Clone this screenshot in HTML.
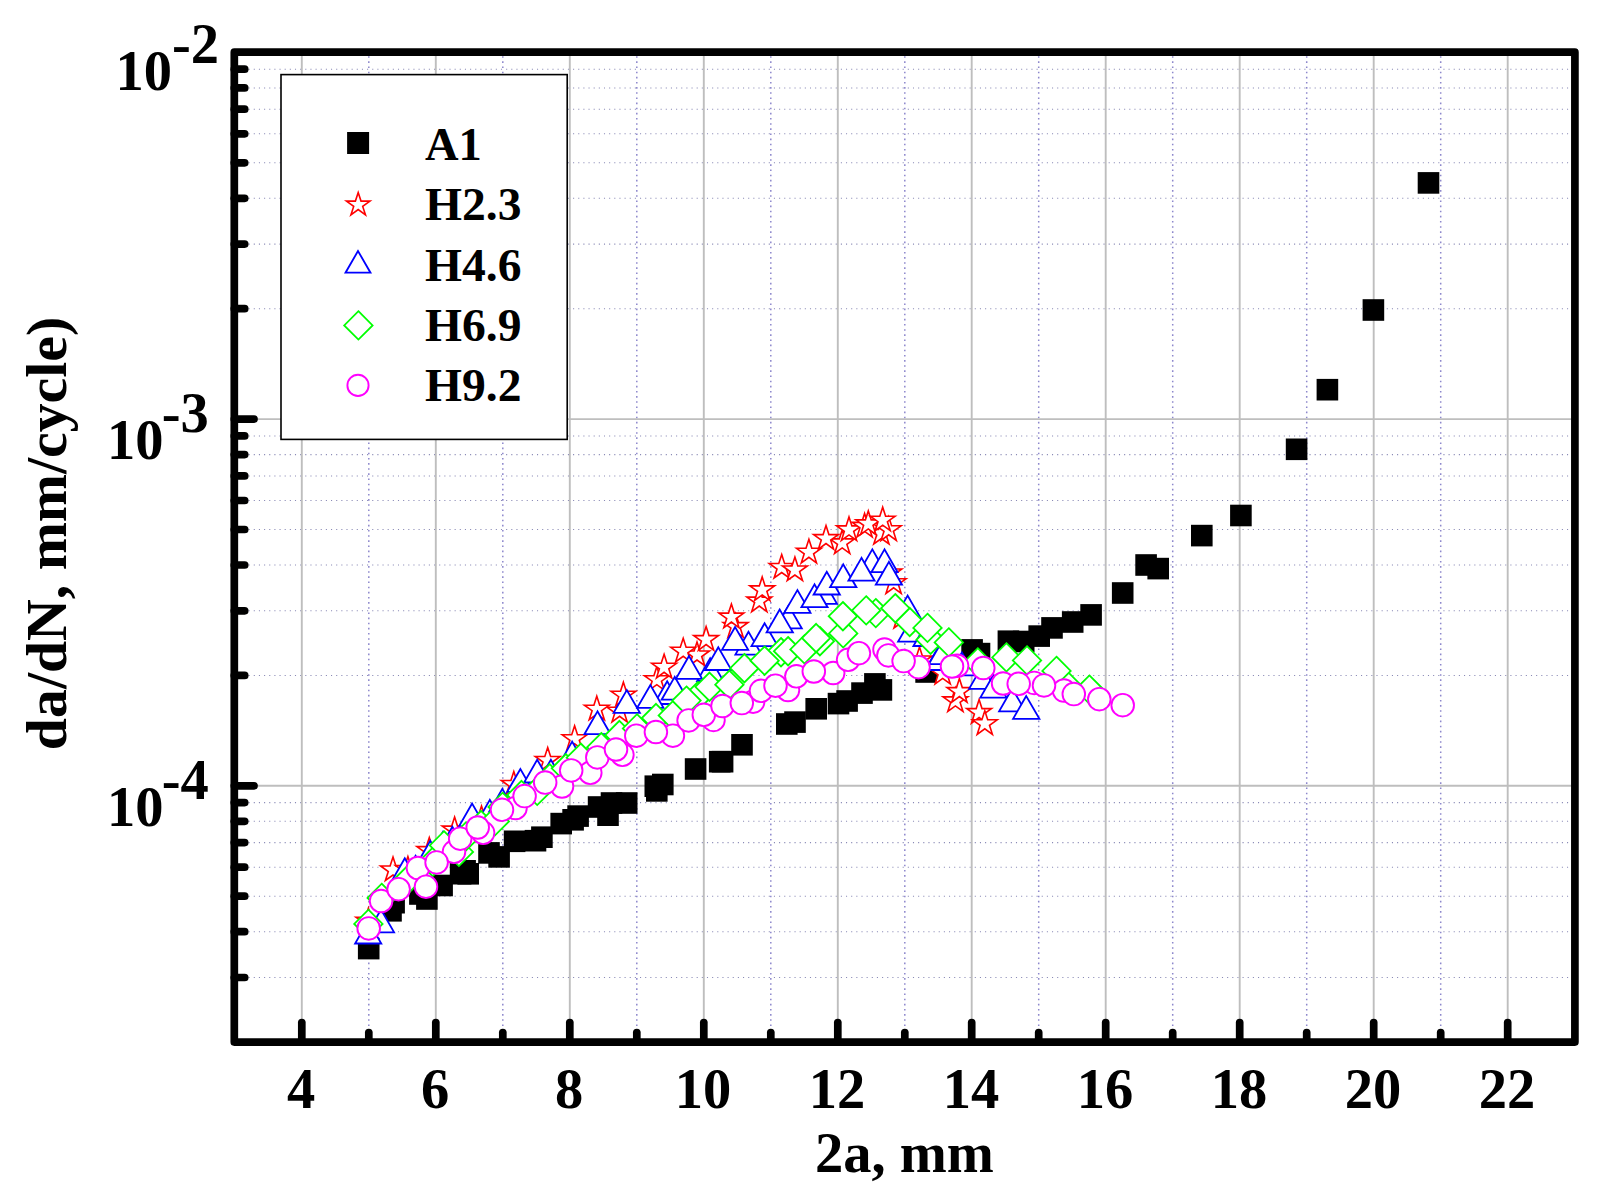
<!DOCTYPE html>
<html lang="en"><head><meta charset="utf-8"><title>da/dN vs 2a</title>
<style>html,body{margin:0;padding:0;background:#fff}svg{display:block}</style></head>
<body>
<svg width="1615" height="1204" viewBox="0 0 1615 1204">
<rect width="1615" height="1204" fill="#fff"/>
<g stroke="#8a8ab6" stroke-width="1.05" stroke-dasharray="1.1 4.05" fill="none">
<path d="M238.3 977.5H1570.9"/>
<path d="M238.3 931.7H1570.9"/>
<path d="M238.3 896.2H1570.9"/>
<path d="M238.3 867.2H1570.9"/>
<path d="M238.3 842.6H1570.9"/>
<path d="M238.3 821.3H1570.9"/>
<path d="M238.3 802.6H1570.9"/>
<path d="M238.3 675.4H1570.9"/>
<path d="M238.3 610.8H1570.9"/>
<path d="M238.3 565.0H1570.9"/>
<path d="M238.3 529.5H1570.9"/>
<path d="M238.3 500.5H1570.9"/>
<path d="M238.3 475.9H1570.9"/>
<path d="M238.3 454.6H1570.9"/>
<path d="M238.3 435.9H1570.9"/>
<path d="M238.3 308.7H1570.9"/>
<path d="M238.3 244.1H1570.9"/>
<path d="M238.3 198.3H1570.9"/>
<path d="M238.3 162.8H1570.9"/>
<path d="M238.3 133.8H1570.9"/>
<path d="M238.3 109.2H1570.9"/>
<path d="M238.3 87.9H1570.9"/>
<path d="M238.3 69.2H1570.9"/>
</g>
<g stroke="#8d87cc" stroke-width="1.5" stroke-dasharray="1.6 3.55" fill="none">
<path d="M368.8 56.2V1038.1"/>
<path d="M502.8 56.2V1038.1"/>
<path d="M636.8 56.2V1038.1"/>
<path d="M770.8 56.2V1038.1"/>
<path d="M904.8 56.2V1038.1"/>
<path d="M1038.7 56.2V1038.1"/>
<path d="M1172.7 56.2V1038.1"/>
<path d="M1306.7 56.2V1038.1"/>
<path d="M1440.7 56.2V1038.1"/>
</g>
<g stroke="#bebebe" stroke-width="1.9" fill="none">
<path d="M234.3 785.8H1574.9"/>
<path d="M234.3 419.1H1574.9"/>
<path d="M301.8 52.2V1042.1"/>
<path d="M435.8 52.2V1042.1"/>
<path d="M569.8 52.2V1042.1"/>
<path d="M703.8 52.2V1042.1"/>
<path d="M837.8 52.2V1042.1"/>
<path d="M971.7 52.2V1042.1"/>
<path d="M1105.7 52.2V1042.1"/>
<path d="M1239.7 52.2V1042.1"/>
<path d="M1373.7 52.2V1042.1"/>
<path d="M1507.7 52.2V1042.1"/>
</g>
<g fill="#000"><rect x="357.9" y="937.8" width="21.6" height="21.6"/><rect x="380.2" y="900.0" width="21.6" height="21.6"/><rect x="383.3" y="891.9" width="21.6" height="21.6"/><rect x="409.1" y="883.2" width="21.6" height="21.6"/><rect x="416.1" y="888.2" width="21.6" height="21.6"/><rect x="431.3" y="874.7" width="21.6" height="21.6"/><rect x="449.8" y="862.9" width="21.6" height="21.6"/><rect x="454.3" y="860.0" width="21.6" height="21.6"/><rect x="457.4" y="863.0" width="21.6" height="21.6"/><rect x="478.2" y="842.1" width="21.6" height="21.6"/><rect x="488.3" y="846.1" width="21.6" height="21.6"/><rect x="503.8" y="830.5" width="21.6" height="21.6"/><rect x="524.7" y="829.9" width="21.6" height="21.6"/><rect x="531.1" y="826.4" width="21.6" height="21.6"/><rect x="550.4" y="812.8" width="21.6" height="21.6"/><rect x="562.3" y="809.0" width="21.6" height="21.6"/><rect x="567.3" y="805.3" width="21.6" height="21.6"/><rect x="587.8" y="796.2" width="21.6" height="21.6"/><rect x="597.2" y="804.4" width="21.6" height="21.6"/><rect x="600.7" y="792.2" width="21.6" height="21.6"/><rect x="615.9" y="792.2" width="21.6" height="21.6"/><rect x="644.5" y="775.4" width="21.6" height="21.6"/><rect x="646.0" y="780.1" width="21.6" height="21.6"/><rect x="652.0" y="773.7" width="21.6" height="21.6"/><rect x="684.8" y="758.2" width="21.6" height="21.6"/><rect x="708.9" y="750.9" width="21.6" height="21.6"/><rect x="711.8" y="750.9" width="21.6" height="21.6"/><rect x="731.2" y="734.0" width="21.6" height="21.6"/><rect x="776.0" y="713.2" width="21.6" height="21.6"/><rect x="784.2" y="711.3" width="21.6" height="21.6"/><rect x="805.4" y="698.0" width="21.6" height="21.6"/><rect x="827.7" y="692.8" width="21.6" height="21.6"/><rect x="836.3" y="690.2" width="21.6" height="21.6"/><rect x="851.2" y="682.3" width="21.6" height="21.6"/><rect x="864.1" y="673.1" width="21.6" height="21.6"/><rect x="870.6" y="679.1" width="21.6" height="21.6"/><rect x="915.3" y="661.2" width="21.6" height="21.6"/><rect x="961.3" y="639.1" width="21.6" height="21.6"/><rect x="968.7" y="642.8" width="21.6" height="21.6"/><rect x="997.6" y="630.4" width="21.6" height="21.6"/><rect x="1012.9" y="630.7" width="21.6" height="21.6"/><rect x="1028.4" y="625.3" width="21.6" height="21.6"/><rect x="1041.2" y="617.1" width="21.6" height="21.6"/><rect x="1061.9" y="611.2" width="21.6" height="21.6"/><rect x="1080.3" y="604.1" width="21.6" height="21.6"/><rect x="1111.9" y="582.2" width="21.6" height="21.6"/><rect x="1135.3" y="554.2" width="21.6" height="21.6"/><rect x="1147.4" y="557.8" width="21.6" height="21.6"/><rect x="1191.0" y="524.8" width="21.6" height="21.6"/><rect x="1230.1" y="504.7" width="21.6" height="21.6"/><rect x="1285.8" y="438.5" width="21.6" height="21.6"/><rect x="1316.6" y="378.9" width="21.6" height="21.6"/><rect x="1362.6" y="299.2" width="21.6" height="21.6"/><rect x="1417.7" y="172.1" width="21.6" height="21.6"/></g>
<g fill="#fff" stroke="#ff0000" stroke-width="1.6" stroke-miterlimit="10"><polygon points="619.6,698.3 622.5,707.3 632.0,707.3 624.3,712.8 627.2,721.8 619.6,716.3 612.0,721.8 614.9,712.8 607.2,707.3 616.7,707.3"/><polygon points="656.8,666.7 659.7,675.7 669.2,675.7 661.5,681.2 664.4,690.2 656.8,684.7 649.2,690.2 652.1,681.2 644.4,675.7 653.9,675.7"/><polygon points="697.0,642.0 699.9,651.0 709.4,651.0 701.7,656.5 704.6,665.5 697.0,660.0 689.4,665.5 692.3,656.5 684.6,651.0 694.1,651.0"/><polygon points="735.6,613.6 738.5,622.6 748.0,622.6 740.3,628.1 743.2,637.1 735.6,631.6 728.0,637.1 730.9,628.1 723.2,622.6 732.7,622.6"/><polygon points="759.3,588.1 762.2,597.1 771.7,597.1 764.0,602.6 766.9,611.6 759.3,606.1 751.7,611.6 754.6,602.6 746.9,597.1 756.4,597.1"/><polygon points="842.2,529.9 845.1,538.9 854.6,538.9 846.9,544.4 849.8,553.4 842.2,547.9 834.6,553.4 837.5,544.4 829.8,538.9 839.3,538.9"/><polygon points="881.4,520.5 884.3,529.5 893.8,529.5 886.1,535.0 889.0,544.0 881.4,538.5 873.8,544.0 876.7,535.0 869.0,529.5 878.5,529.5"/><polygon points="888.7,516.8 891.6,525.8 901.1,525.8 893.4,531.3 896.3,540.3 888.7,534.8 881.1,540.3 884.0,531.3 876.3,525.8 885.8,525.8"/><polygon points="955.4,687.9 958.3,696.9 967.8,696.9 960.1,702.4 963.0,711.4 955.4,705.9 947.8,711.4 950.7,702.4 943.0,696.9 952.5,696.9"/><polygon points="368.4,908.2 371.3,917.2 380.8,917.2 373.1,922.7 376.0,931.7 368.4,926.2 360.8,931.7 363.7,922.7 356.0,917.2 365.5,917.2"/><polygon points="393.0,857.0 395.9,866.0 405.4,866.0 397.7,871.5 400.6,880.5 393.0,875.0 385.4,880.5 388.3,871.5 380.6,866.0 390.1,866.0"/><polygon points="407.9,856.5 410.8,865.5 420.3,865.5 412.6,871.0 415.5,880.0 407.9,874.5 400.3,880.0 403.2,871.0 395.5,865.5 405.0,865.5"/><polygon points="429.3,837.6 432.2,846.6 441.7,846.6 434.0,852.1 436.9,861.1 429.3,855.6 421.7,861.1 424.6,852.1 416.9,846.6 426.4,846.6"/><polygon points="454.6,817.1 457.5,826.1 467.0,826.1 459.3,831.6 462.2,840.6 454.6,835.1 447.0,840.6 449.9,831.6 442.2,826.1 451.7,826.1"/><polygon points="481.5,806.0 484.4,815.0 493.9,815.0 486.2,820.5 489.1,829.5 481.5,824.0 473.9,829.5 476.8,820.5 469.1,815.0 478.6,815.0"/><polygon points="513.8,771.5 516.7,780.5 526.2,780.5 518.5,786.0 521.4,795.0 513.8,789.5 506.2,795.0 509.1,786.0 501.4,780.5 510.9,780.5"/><polygon points="547.7,747.5 550.6,756.5 560.1,756.5 552.4,762.0 555.3,771.0 547.7,765.5 540.1,771.0 543.0,762.0 535.3,756.5 544.8,756.5"/><polygon points="574.6,725.8 577.5,734.8 587.0,734.8 579.3,740.3 582.2,749.3 574.6,743.8 567.0,749.3 569.9,740.3 562.2,734.8 571.7,734.8"/><polygon points="596.8,696.2 599.7,705.2 609.2,705.2 601.5,710.7 604.4,719.7 596.8,714.2 589.2,719.7 592.1,710.7 584.4,705.2 593.9,705.2"/><polygon points="623.4,682.2 626.3,691.2 635.8,691.2 628.1,696.7 631.0,705.7 623.4,700.2 615.8,705.7 618.7,696.7 611.0,691.2 620.5,691.2"/><polygon points="664.1,654.3 667.0,663.3 676.5,663.3 668.8,668.8 671.7,677.8 664.1,672.3 656.5,677.8 659.4,668.8 651.7,663.3 661.2,663.3"/><polygon points="683.2,638.3 686.1,647.3 695.6,647.3 687.9,652.8 690.8,661.8 683.2,656.3 675.6,661.8 678.5,652.8 670.8,647.3 680.3,647.3"/><polygon points="706.1,626.6 709.0,635.6 718.5,635.6 710.8,641.1 713.7,650.1 706.1,644.6 698.5,650.1 701.4,641.1 693.7,635.6 703.2,635.6"/><polygon points="731.4,604.1 734.3,613.1 743.8,613.1 736.1,618.6 739.0,627.6 731.4,622.1 723.8,627.6 726.7,618.6 719.0,613.1 728.5,613.1"/><polygon points="762.2,576.9 765.1,585.9 774.6,585.9 766.9,591.4 769.8,600.4 762.2,594.9 754.6,600.4 757.5,591.4 749.8,585.9 759.3,585.9"/><polygon points="781.7,554.5 784.6,563.5 794.1,563.5 786.4,569.0 789.3,578.0 781.7,572.5 774.1,578.0 777.0,569.0 769.3,563.5 778.8,563.5"/><polygon points="794.9,557.0 797.8,566.0 807.3,566.0 799.6,571.5 802.5,580.5 794.9,575.0 787.3,580.5 790.2,571.5 782.5,566.0 792.0,566.0"/><polygon points="808.9,539.3 811.8,548.3 821.3,548.3 813.6,553.8 816.5,562.8 808.9,557.3 801.3,562.8 804.2,553.8 796.5,548.3 806.0,548.3"/><polygon points="826.0,525.6 828.9,534.6 838.4,534.6 830.7,540.1 833.6,549.1 826.0,543.6 818.4,549.1 821.3,540.1 813.6,534.6 823.1,534.6"/><polygon points="849.0,516.9 851.9,525.9 861.4,525.9 853.7,531.4 856.6,540.4 849.0,534.9 841.4,540.4 844.3,531.4 836.6,525.9 846.1,525.9"/><polygon points="864.6,513.4 867.5,522.4 877.0,522.4 869.3,527.9 872.2,536.9 864.6,531.4 857.0,536.9 859.9,527.9 852.2,522.4 861.7,522.4"/><polygon points="868.3,510.9 871.2,519.9 880.7,519.9 873.0,525.4 875.9,534.4 868.3,528.9 860.7,534.4 863.6,525.4 855.9,519.9 865.4,519.9"/><polygon points="882.7,507.2 885.6,516.2 895.1,516.2 887.4,521.7 890.3,530.7 882.7,525.2 875.1,530.7 878.0,521.7 870.3,516.2 879.8,516.2"/><polygon points="889.4,560.0 892.3,569.0 901.8,569.0 894.1,574.5 897.0,583.5 889.4,578.0 881.8,583.5 884.7,574.5 877.0,569.0 886.5,569.0"/><polygon points="893.6,569.8 896.5,578.8 906.0,578.8 898.3,584.3 901.2,593.3 893.6,587.8 886.0,593.3 888.9,584.3 881.2,578.8 890.7,578.8"/><polygon points="901.6,604.5 904.5,613.5 914.0,613.5 906.3,619.0 909.2,628.0 901.6,622.5 894.0,628.0 896.9,619.0 889.2,613.5 898.7,613.5"/><polygon points="919.5,647.0 922.4,656.0 931.9,656.0 924.2,661.5 927.1,670.5 919.5,665.0 911.9,670.5 914.8,661.5 907.1,656.0 916.6,656.0"/><polygon points="942.7,660.4 945.6,669.4 955.1,669.4 947.4,674.9 950.3,683.9 942.7,678.4 935.1,683.9 938.0,674.9 930.3,669.4 939.8,669.4"/><polygon points="959.4,678.6 962.3,687.6 971.8,687.6 964.1,693.1 967.0,702.1 959.4,696.6 951.8,702.1 954.7,693.1 947.0,687.6 956.5,687.6"/><polygon points="979.1,699.6 982.0,708.6 991.5,708.6 983.8,714.1 986.7,723.1 979.1,717.6 971.5,723.1 974.4,714.1 966.7,708.6 976.2,708.6"/><polygon points="984.8,710.8 987.7,719.8 997.2,719.8 989.5,725.3 992.4,734.3 984.8,728.8 977.2,734.3 980.1,725.3 972.4,719.8 981.9,719.8"/></g>
<g fill="#fff" stroke="#0000ff" stroke-width="1.8" stroke-miterlimit="10"><polygon points="667.2,681.2 654.1,704.0 680.4,704.0"/><polygon points="710.2,658.2 697.1,681.0 723.4,681.0"/><polygon points="748.5,631.8 735.4,654.6 761.6,654.6"/><polygon points="788.6,605.5 775.5,628.3 801.8,628.3"/><polygon points="823.9,581.0 810.8,603.8 837.0,603.8"/><polygon points="872.3,549.4 859.1,572.2 885.4,572.2"/><polygon points="368.2,920.7 355.1,943.5 381.3,943.5"/><polygon points="381.0,909.5 367.9,932.3 394.1,932.3"/><polygon points="404.8,858.3 391.7,881.1 417.9,881.1"/><polygon points="415.6,855.8 402.5,878.6 428.8,878.6"/><polygon points="430.2,840.9 417.1,863.7 443.3,863.7"/><polygon points="443.0,831.7 429.9,854.5 456.1,854.5"/><polygon points="452.4,826.8 439.2,849.6 465.5,849.6"/><polygon points="472.1,803.5 459.0,826.3 485.2,826.3"/><polygon points="489.8,799.9 476.7,822.7 502.9,822.7"/><polygon points="502.3,788.9 489.2,811.7 515.5,811.7"/><polygon points="520.4,769.0 507.2,791.8 533.5,791.8"/><polygon points="537.2,759.7 524.1,782.5 550.4,782.5"/><polygon points="550.9,759.7 537.8,782.5 564.0,782.5"/><polygon points="572.1,741.6 559.0,764.4 585.2,764.4"/><polygon points="597.5,711.4 584.4,734.2 610.6,734.2"/><polygon points="626.8,690.1 613.6,712.9 639.9,712.9"/><polygon points="650.4,685.0 637.2,707.8 663.5,707.8"/><polygon points="674.7,676.9 661.6,699.7 687.9,699.7"/><polygon points="689.0,656.0 675.9,678.8 702.1,678.8"/><polygon points="718.3,647.2 705.1,670.0 731.4,670.0"/><polygon points="735.1,627.0 722.0,649.8 748.2,649.8"/><polygon points="764.6,623.3 751.5,646.1 777.8,646.1"/><polygon points="779.7,609.5 766.6,632.3 792.9,632.3"/><polygon points="797.4,590.1 784.2,612.9 810.5,612.9"/><polygon points="814.5,584.4 801.4,607.2 827.6,607.2"/><polygon points="826.8,571.7 813.6,594.5 839.9,594.5"/><polygon points="843.2,564.4 830.1,587.2 856.4,587.2"/><polygon points="861.5,557.9 848.4,580.7 874.6,580.7"/><polygon points="884.5,549.4 871.4,572.2 897.6,572.2"/><polygon points="888.9,561.9 875.8,584.7 902.0,584.7"/><polygon points="907.6,595.6 894.5,618.4 920.8,618.4"/><polygon points="911.3,618.8 898.1,641.6 924.4,641.6"/><polygon points="926.5,623.2 913.4,646.0 939.6,646.0"/><polygon points="938.3,647.2 925.1,670.0 951.4,670.0"/><polygon points="942.0,641.3 928.9,664.1 955.1,664.1"/><polygon points="961.9,652.5 948.8,675.3 975.0,675.3"/><polygon points="982.2,666.1 969.1,688.9 995.4,688.9"/><polygon points="993.5,674.8 980.4,697.6 1006.6,697.6"/><polygon points="1012.2,688.5 999.1,711.3 1025.4,711.3"/><polygon points="1026.2,696.0 1013.1,718.8 1039.4,718.8"/></g>
<g fill="#fff" stroke="#00ff00" stroke-width="1.8" stroke-miterlimit="10"><polygon points="697.8,682.0 712.0,696.2 697.8,710.4 683.6,696.2"/><polygon points="781.0,638.0 795.2,652.2 781.0,666.4 766.8,652.2"/><polygon points="819.9,627.0 834.1,641.2 819.9,655.4 805.7,641.2"/><polygon points="843.2,619.2 857.4,633.4 843.2,647.6 829.0,633.4"/><polygon points="875.8,598.9 890.0,613.1 875.8,627.3 861.6,613.1"/><polygon points="909.7,607.8 923.9,622.0 909.7,636.2 895.5,622.0"/><polygon points="930.6,625.6 944.8,639.8 930.6,654.0 916.4,639.8"/><polygon points="1067.1,671.2 1081.3,685.4 1067.1,699.6 1052.9,685.4"/><polygon points="368.4,909.7 382.6,923.9 368.4,938.1 354.2,923.9"/><polygon points="381.7,883.7 395.9,897.9 381.7,912.1 367.5,897.9"/><polygon points="410.0,863.3 424.2,877.5 410.0,891.7 395.8,877.5"/><polygon points="432.6,847.8 446.8,862.0 432.6,876.2 418.4,862.0"/><polygon points="444.0,831.2 458.2,845.4 444.0,859.6 429.8,845.4"/><polygon points="458.9,837.7 473.1,851.9 458.9,866.1 444.7,851.9"/><polygon points="466.0,822.2 480.2,836.4 466.0,850.6 451.8,836.4"/><polygon points="481.1,810.8 495.3,825.0 481.1,839.2 466.9,825.0"/><polygon points="494.8,807.2 509.0,821.4 494.8,835.6 480.6,821.4"/><polygon points="502.6,792.7 516.8,806.9 502.6,821.1 488.4,806.9"/><polygon points="521.5,780.8 535.7,795.0 521.5,809.2 507.3,795.0"/><polygon points="537.2,776.7 551.4,790.9 537.2,805.1 523.0,790.9"/><polygon points="549.7,764.1 563.9,778.3 549.7,792.5 535.5,778.3"/><polygon points="565.9,754.1 580.1,768.3 565.9,782.5 551.7,768.3"/><polygon points="580.8,743.5 595.0,757.7 580.8,771.9 566.6,757.7"/><polygon points="601.3,733.0 615.5,747.2 601.3,761.4 587.1,747.2"/><polygon points="619.4,720.8 633.6,735.0 619.4,749.2 605.2,735.0"/><polygon points="637.0,714.2 651.2,728.4 637.0,742.6 622.8,728.4"/><polygon points="656.0,703.8 670.2,718.0 656.0,732.2 641.8,718.0"/><polygon points="672.8,701.2 687.0,715.4 672.8,729.6 658.6,715.4"/><polygon points="686.5,686.4 700.7,700.6 686.5,714.8 672.3,700.6"/><polygon points="709.5,672.6 723.7,686.8 709.5,701.0 695.3,686.8"/><polygon points="729.4,670.5 743.6,684.7 729.4,698.9 715.2,684.7"/><polygon points="744.4,654.0 758.6,668.2 744.4,682.4 730.2,668.2"/><polygon points="764.6,646.5 778.8,660.7 764.6,674.9 750.4,660.7"/><polygon points="788.1,637.0 802.3,651.2 788.1,665.4 773.9,651.2"/><polygon points="804.5,635.2 818.7,649.4 804.5,663.6 790.3,649.4"/><polygon points="816.1,623.8 830.3,638.0 816.1,652.2 801.9,638.0"/><polygon points="842.9,602.0 857.1,616.2 842.9,630.4 828.7,616.2"/><polygon points="866.2,596.2 880.4,610.4 866.2,624.6 852.0,610.4"/><polygon points="895.3,594.0 909.5,608.2 895.3,622.4 881.1,608.2"/><polygon points="927.5,613.7 941.7,627.9 927.5,642.1 913.3,627.9"/><polygon points="948.8,628.2 963.0,642.4 948.8,656.6 934.6,642.4"/><polygon points="977.8,648.2 992.0,662.4 977.8,676.6 963.6,662.4"/><polygon points="1006.4,643.2 1020.6,657.4 1006.4,671.6 992.2,657.4"/><polygon points="1027.0,646.2 1041.2,660.4 1027.0,674.6 1012.8,660.4"/><polygon points="1056.5,656.7 1070.7,670.9 1056.5,685.1 1042.3,670.9"/><polygon points="1089.4,675.4 1103.6,689.6 1089.4,703.8 1075.2,689.6"/></g>
<g fill="#fff" stroke="#ff00ff" stroke-width="1.9"><circle cx="454.0" cy="851.8" r="11.3"/><circle cx="483.1" cy="832.8" r="11.3"/><circle cx="515.5" cy="808.0" r="11.3"/><circle cx="562.0" cy="786.5" r="11.3"/><circle cx="590.3" cy="772.8" r="11.3"/><circle cx="622.4" cy="754.8" r="11.3"/><circle cx="672.9" cy="735.7" r="11.3"/><circle cx="713.5" cy="719.9" r="11.3"/><circle cx="753.1" cy="701.7" r="11.3"/><circle cx="761.0" cy="690.8" r="11.3"/><circle cx="788.0" cy="690.0" r="11.3"/><circle cx="833.2" cy="673.0" r="11.3"/><circle cx="848.1" cy="659.8" r="11.3"/><circle cx="884.5" cy="649.6" r="11.3"/><circle cx="918.5" cy="667.2" r="11.3"/><circle cx="957.1" cy="665.8" r="11.3"/><circle cx="1003.1" cy="683.5" r="11.3"/><circle cx="1034.2" cy="682.9" r="11.3"/><circle cx="1064.0" cy="690.6" r="11.3"/><circle cx="368.7" cy="928.4" r="11.3"/><circle cx="381.1" cy="901.0" r="11.3"/><circle cx="398.6" cy="889.2" r="11.3"/><circle cx="417.9" cy="868.0" r="11.3"/><circle cx="426.0" cy="886.7" r="11.3"/><circle cx="436.6" cy="862.4" r="11.3"/><circle cx="460.2" cy="838.7" r="11.3"/><circle cx="477.7" cy="827.5" r="11.3"/><circle cx="502.0" cy="809.8" r="11.3"/><circle cx="524.6" cy="796.1" r="11.3"/><circle cx="545.2" cy="782.6" r="11.3"/><circle cx="571.2" cy="770.4" r="11.3"/><circle cx="597.3" cy="757.4" r="11.3"/><circle cx="616.0" cy="749.5" r="11.3"/><circle cx="636.3" cy="735.7" r="11.3"/><circle cx="655.9" cy="732.0" r="11.3"/><circle cx="688.6" cy="720.4" r="11.3"/><circle cx="703.8" cy="714.8" r="11.3"/><circle cx="722.5" cy="706.0" r="11.3"/><circle cx="741.8" cy="703.1" r="11.3"/><circle cx="775.5" cy="685.7" r="11.3"/><circle cx="796.4" cy="676.3" r="11.3"/><circle cx="813.8" cy="671.5" r="11.3"/><circle cx="858.9" cy="653.2" r="11.3"/><circle cx="888.4" cy="655.4" r="11.3"/><circle cx="903.6" cy="661.1" r="11.3"/><circle cx="952.0" cy="666.5" r="11.3"/><circle cx="983.3" cy="668.0" r="11.3"/><circle cx="1018.7" cy="683.8" r="11.3"/><circle cx="1044.0" cy="685.4" r="11.3"/><circle cx="1073.8" cy="694.1" r="11.3"/><circle cx="1099.3" cy="699.2" r="11.3"/><circle cx="1122.7" cy="705.2" r="11.3"/></g>
<rect x="281" y="74.6" width="286.2" height="364.8" fill="#fff" stroke="#000" stroke-width="1.6"/>
<g fill="#000"><rect x="347.1" y="132.0" width="22" height="22"/></g>
<g fill="#fff" stroke="#ff0000" stroke-width="1.6" stroke-miterlimit="10"><polygon points="358.2,192.5 361.0,201.1 370.0,201.1 362.7,206.4 365.5,214.9 358.2,209.6 350.9,214.9 353.7,206.4 346.4,201.1 355.4,201.1"/></g>
<g fill="#fff" stroke="#0000ff" stroke-width="1.8" stroke-miterlimit="10"><polygon points="358.0,251.0 345.5,272.7 370.5,272.7"/></g>
<g fill="#fff" stroke="#00ff00" stroke-width="1.8" stroke-miterlimit="10"><polygon points="358.4,311.2 372.6,325.4 358.4,339.6 344.2,325.4"/></g>
<g fill="#fff" stroke="#ff00ff" stroke-width="1.9"><circle cx="358.0" cy="385.4" r="10.6"/></g>
<g stroke="#000" stroke-width="7.7" stroke-linecap="round" stroke-linejoin="round" fill="none">
<rect x="234.3" y="52.2" width="1340.6" height="989.9"/>
<path d="M301.8 1042.1v-19.5"/>
<path d="M368.8 1042.1v-9.5"/>
<path d="M435.8 1042.1v-19.5"/>
<path d="M502.8 1042.1v-9.5"/>
<path d="M569.8 1042.1v-19.5"/>
<path d="M636.8 1042.1v-9.5"/>
<path d="M703.8 1042.1v-19.5"/>
<path d="M770.8 1042.1v-9.5"/>
<path d="M837.8 1042.1v-19.5"/>
<path d="M904.8 1042.1v-9.5"/>
<path d="M971.7 1042.1v-19.5"/>
<path d="M1038.7 1042.1v-9.5"/>
<path d="M1105.7 1042.1v-19.5"/>
<path d="M1172.7 1042.1v-9.5"/>
<path d="M1239.7 1042.1v-19.5"/>
<path d="M1306.7 1042.1v-9.5"/>
<path d="M1373.7 1042.1v-19.5"/>
<path d="M1440.7 1042.1v-9.5"/>
<path d="M1507.7 1042.1v-19.5"/>
<path d="M234.3 977.5h10.4"/>
<path d="M234.3 931.7h10.4"/>
<path d="M234.3 896.2h10.4"/>
<path d="M234.3 867.2h10.4"/>
<path d="M234.3 842.6h10.4"/>
<path d="M234.3 821.3h10.4"/>
<path d="M234.3 802.6h10.4"/>
<path d="M234.3 785.8h19.7"/>
<path d="M234.3 675.4h10.4"/>
<path d="M234.3 610.8h10.4"/>
<path d="M234.3 565.0h10.4"/>
<path d="M234.3 529.5h10.4"/>
<path d="M234.3 500.5h10.4"/>
<path d="M234.3 475.9h10.4"/>
<path d="M234.3 454.6h10.4"/>
<path d="M234.3 435.9h10.4"/>
<path d="M234.3 419.1h19.7"/>
<path d="M234.3 308.7h10.4"/>
<path d="M234.3 244.1h10.4"/>
<path d="M234.3 198.3h10.4"/>
<path d="M234.3 162.8h10.4"/>
<path d="M234.3 133.8h10.4"/>
<path d="M234.3 109.2h10.4"/>
<path d="M234.3 87.9h10.4"/>
<path d="M234.3 69.2h10.4"/>
</g>
<g font-family="'Liberation Serif','Times New Roman',serif" font-weight="bold" fill="#000">
<g font-size="56.5" text-anchor="middle">
<text x="301.0" y="1107.5">4</text>
<text x="435.0" y="1107.5">6</text>
<text x="569.0" y="1107.5">8</text>
<text x="703.0" y="1107.5">10</text>
<text x="837.0" y="1107.5">12</text>
<text x="970.9" y="1107.5">14</text>
<text x="1104.9" y="1107.5">16</text>
<text x="1238.9" y="1107.5">18</text>
<text x="1372.9" y="1107.5">20</text>
<text x="1506.9" y="1107.5">22</text>
<text x="904.5" y="1171.8">2a, mm</text>
</g>
<g font-size="56.5">
<text x="115.6" y="90">10</text><text x="172" y="62.7">-2</text>
<text x="107" y="459.1">10</text><text x="161.8" y="432.3">-3</text>
<text x="107" y="825.8">10</text><text x="161.8" y="799.0">-4</text>
</g>
<text transform="translate(66.4,533.5) rotate(-90) scale(1.023,1)" font-size="56.5" text-anchor="middle">da/dN, mm/cycle)</text>
<g font-size="46.5">
<text x="425" y="159.7">A1</text>
<text x="425" y="220.1" textLength="96.5" lengthAdjust="spacingAndGlyphs">H2.3</text>
<text x="425" y="280.5" textLength="96.5" lengthAdjust="spacingAndGlyphs">H4.6</text>
<text x="425" y="340.7" textLength="96.5" lengthAdjust="spacingAndGlyphs">H6.9</text>
<text x="425" y="400.7" textLength="96.5" lengthAdjust="spacingAndGlyphs">H9.2</text>
</g>
</g>
</svg>
</body></html>
